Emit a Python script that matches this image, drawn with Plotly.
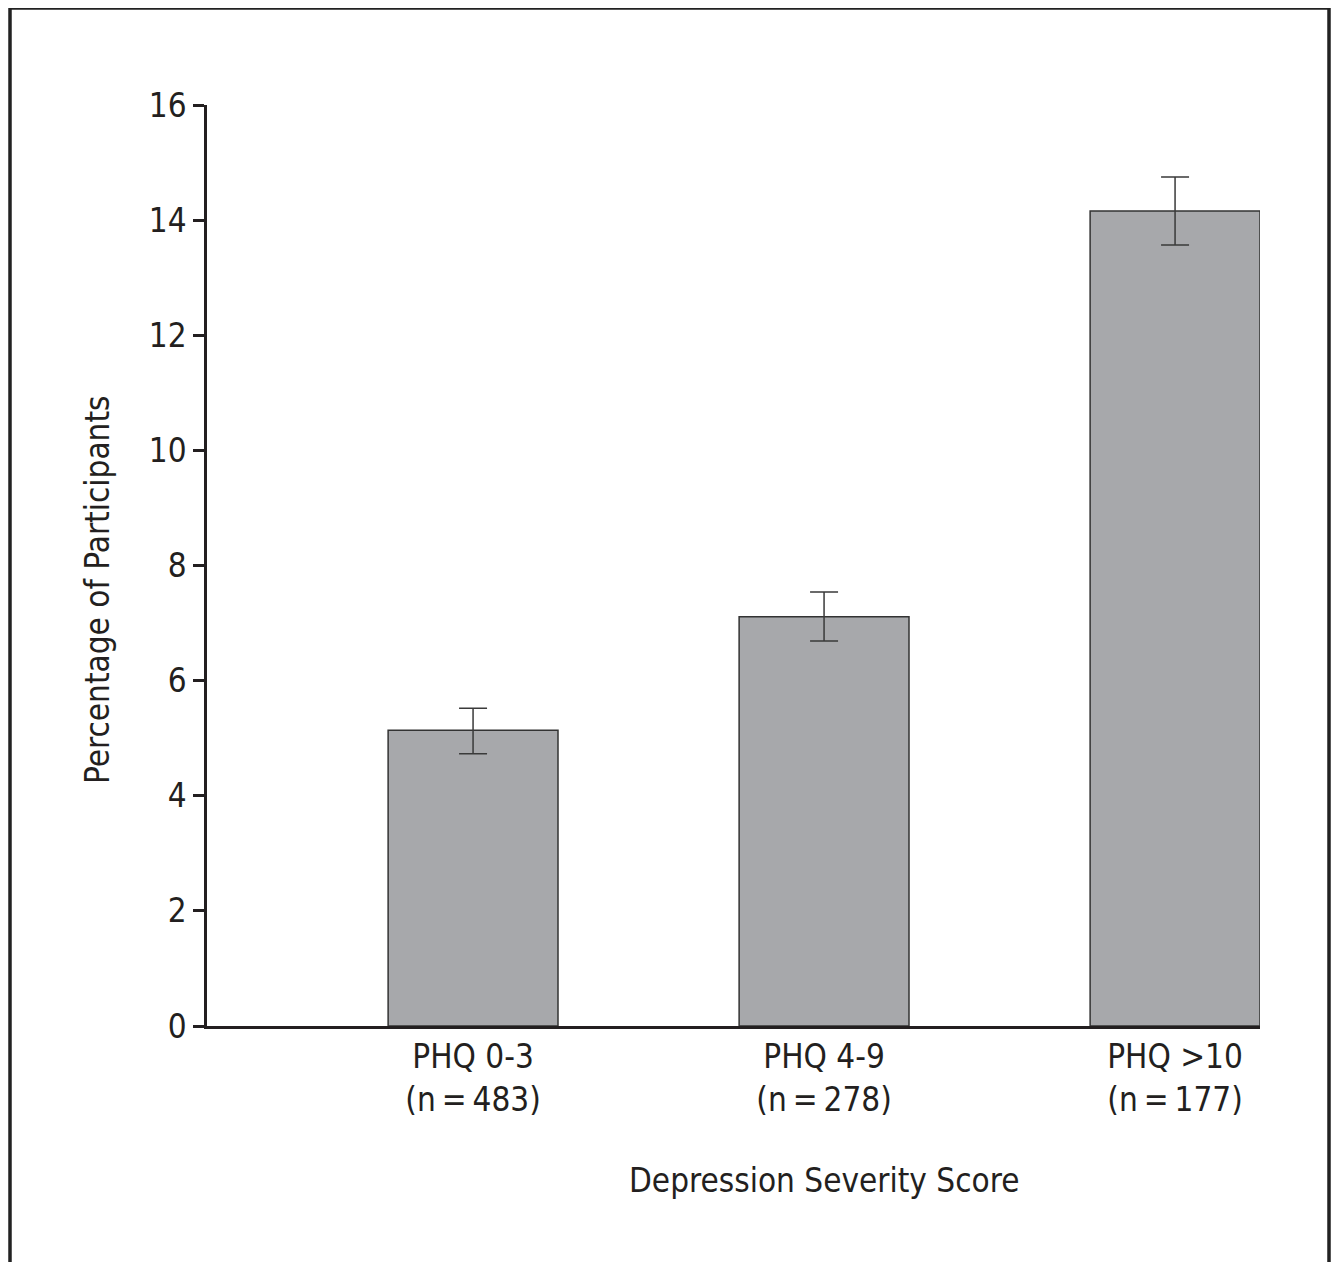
import plotly.graph_objects as go

categories = ["PHQ 0-3", "PHQ 4-9", "PHQ >10"]
sample_sizes = ["483", "278", "177"]
percentages = [5.14, 7.11, 14.16]
err_plus = [0.38, 0.43, 0.59]
err_minus = [0.41, 0.42, 0.59]
y_ticks = [0, 2, 4, 6, 8, 10, 12, 14, 16]

FONT = "DejaVu Sans Condensed, Roboto, sans-serif"
INK = "#231f20"
FS = 33

W, H = 1339, 1262
OFF = 8  # page offset of the figure
L, R, T, B = 207 - OFF, 1260 - OFF, 105 - OFF, 1026 - OFF

tick_text = [f"{c}<br>(n\u2009=\u2009{n})" for c, n in zip(categories, sample_sizes)]

fig = go.Figure()
fig.add_trace(go.Bar(
    x=list(range(len(categories))),
    y=percentages,
    width=0.484,
    marker=dict(color="#a7a8ab", line=dict(color="#333333", width=1.5)),
    error_y=dict(type="data", symmetric=False, array=err_plus, arrayminus=err_minus,
                 color="#3a3a3a", thickness=1.5, width=14),
    showlegend=False,
))

fig.update_layout(
    width=W, height=H,
    margin=dict(l=L, r=W - R, t=T, b=H - B, pad=0),
    paper_bgcolor="white", plot_bgcolor="white",
    font=dict(family=FONT, size=FS, color=INK),
    bargap=0.5,
    xaxis=dict(
        range=[-0.758, 2.242],
        tickmode="array", tickvals=list(range(len(categories))), ticktext=tick_text,
        showline=True, linecolor=INK, linewidth=2.5,
        ticks="", showgrid=False, zeroline=False,
        tickfont=dict(family=FONT, size=FS, color=INK),
        fixedrange=True,
    ),
    yaxis=dict(
        range=[0, 16],
        tickmode="array", tickvals=y_ticks, ticktext=[str(v) for v in y_ticks],
        showline=True, linecolor=INK, linewidth=2.5,
        ticks="outside", ticklen=11, tickwidth=2.5, tickcolor=INK,
        showgrid=False, zeroline=False,
        tickfont=dict(family=FONT, size=FS, color=INK),
    ),
)

def px_x(p):
    return (p - OFF - L) / (R - L)

def px_y(p):
    return (B - (p - OFF)) / (B - T)

# axis titles
fig.add_annotation(x=1, xref="x", y=px_y(1180), yref="paper",
                   text="Depression Severity Score", showarrow=False,
                   font=dict(family=FONT, size=FS, color=INK),
                   xanchor="center", yanchor="middle")
fig.add_annotation(x=px_x(97), xref="paper", y=px_y(590), yref="paper",
                   text="Percentage of Participants", showarrow=False, textangle=-90,
                   font=dict(family=FONT, size=FS, color=INK),
                   xanchor="center", yanchor="middle")

# frame around the figure (open at bottom)
x0, x1, y0, y1 = px_x(10), px_x(1329), px_y(8), px_y(1275)
fig.add_shape(type="path", xref="paper", yref="paper",
              path=f"M {x0} {y1} L {x0} {y0} L {x1} {y0} L {x1} {y1}",
              line=dict(color="#222222", width=3.5))

fig.write_html("out.html")
